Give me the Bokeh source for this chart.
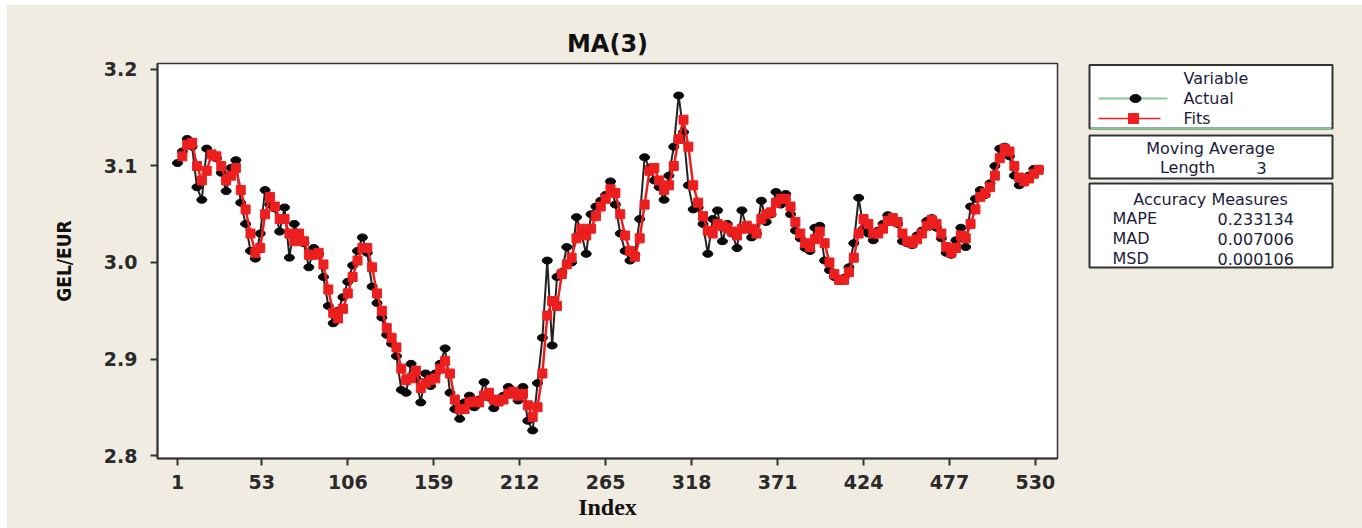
from bokeh.plotting import figure
from bokeh.models import Range1d, FixedTicker, ColumnDataSource
from bokeh.layouts import row
from bokeh.embed import file_html
from bokeh.resources import INLINE
from bokeh.core.properties import value

# ---------------- data ----------------
title_text = "MA(3)"
x_label = "Index"
y_label = "GEL/EUR"
x_ticks = [1, 53, 106, 159, 212, 265, 318, 371, 424, 477, 530]
y_ticks = [2.8, 2.9, 3.0, 3.1, 3.2]

actual_start, fits_start, step, last_index = 1, 4, 3, 532
actual = [
    3.103, 3.115, 3.128, 3.120, 3.078, 3.065, 3.118, 3.112, 3.108, 3.093,
    3.074, 3.098, 3.106, 3.062, 3.040, 3.012, 3.004, 3.030, 3.075, 3.060,
    3.056, 3.032, 3.057, 3.005, 3.040, 3.026, 3.020, 2.995, 3.015, 3.009,
    2.985, 2.955, 2.937, 2.950, 2.964, 2.980, 2.997, 3.012, 3.026, 3.010,
    2.975, 2.958, 2.943, 2.925, 2.916, 2.903, 2.868, 2.865, 2.895, 2.880,
    2.855, 2.885, 2.872, 2.885, 2.895, 2.911, 2.865, 2.848, 2.838, 2.855,
    2.862, 2.850, 2.858, 2.876, 2.860, 2.849, 2.855, 2.862, 2.871, 2.865,
    2.857, 2.871, 2.836, 2.826, 2.875, 2.922, 3.002, 2.914, 2.985, 2.990,
    3.016, 3.000, 3.047, 3.030, 3.009, 3.050, 3.058, 3.064, 3.070, 3.084,
    3.060, 3.030, 3.012, 3.002, 3.008, 3.045, 3.109, 3.098, 3.085, 3.078,
    3.065, 3.090, 3.120, 3.173, 3.135, 3.080, 3.055, 3.057, 3.040, 3.009,
    3.045, 3.054, 3.022, 3.040, 3.030, 3.015, 3.054, 3.035, 3.026, 3.030,
    3.064, 3.042, 3.050, 3.073, 3.060, 3.071, 3.050, 3.033, 3.025, 3.015,
    3.012, 3.036, 3.038, 3.002, 2.992, 2.985, 2.981, 2.984, 2.995, 3.020,
    3.067, 3.035, 3.030, 3.023, 3.033, 3.040, 3.049, 3.045, 3.040, 3.022,
    3.020, 3.018, 3.028, 3.033, 3.043, 3.046, 3.036, 3.025, 3.010, 3.008,
    3.023, 3.036, 3.016, 3.058, 3.066, 3.075, 3.070, 3.082, 3.100, 3.118,
    3.120, 3.110, 3.090, 3.080, 3.085, 3.090, 3.097, 3.097,
]
fits = [
    3.110, 3.122, 3.124, 3.100, 3.085, 3.095, 3.112, 3.110, 3.100, 3.085,
    3.090, 3.098, 3.075, 3.055, 3.030, 3.010, 3.015, 3.050, 3.068, 3.058,
    3.045, 3.045, 3.030, 3.022, 3.030, 3.022, 3.008, 3.008, 3.010, 2.998,
    2.972, 2.948, 2.942, 2.952, 2.968, 2.985, 3.002, 3.015, 3.015, 2.995,
    2.968, 2.950, 2.932, 2.922, 2.912, 2.890, 2.878, 2.880, 2.888, 2.870,
    2.875, 2.878, 2.880, 2.890, 2.898, 2.885, 2.858, 2.848, 2.848, 2.855,
    2.856, 2.855, 2.862, 2.865, 2.858, 2.856, 2.858, 2.864, 2.866, 2.862,
    2.864, 2.852, 2.840, 2.850, 2.885, 2.945, 2.960, 2.955, 2.988, 2.998,
    3.005, 3.025, 3.035, 3.028, 3.035, 3.048, 3.058, 3.066, 3.076, 3.072,
    3.050, 3.028, 3.012, 3.006, 3.025, 3.060, 3.095, 3.098, 3.085, 3.075,
    3.080, 3.100, 3.128, 3.148, 3.120, 3.080, 3.062, 3.048, 3.033, 3.030,
    3.040, 3.038, 3.036, 3.032, 3.028, 3.035, 3.038, 3.035, 3.030, 3.045,
    3.050, 3.052, 3.062, 3.066, 3.066, 3.058, 3.042, 3.030, 3.020, 3.016,
    3.024, 3.032, 3.020, 3.000, 2.988, 2.982, 2.982, 2.990, 3.005, 3.030,
    3.045, 3.040, 3.030, 3.030, 3.035, 3.043, 3.046, 3.042, 3.030, 3.022,
    3.020, 3.024, 3.030, 3.038, 3.044, 3.040, 3.030, 3.016, 3.010, 3.015,
    3.028, 3.025, 3.040, 3.055, 3.068, 3.072, 3.078, 3.090, 3.108, 3.118,
    3.115, 3.100, 3.088, 3.084, 3.087, 3.092, 3.096,
]
actual_idx = list(range(actual_start, last_index + 1, step))
fits_idx = list(range(fits_start, last_index + 1, step))

legend_title = "Variable"
series_names = ["Actual", "Fits"]
ma_title = "Moving Average"
ma_length_label = "Length"
ma_length = "3"
acc_title = "Accuracy Measures"
acc_names = ["MAPE", "MAD", "MSD"]
acc_values = ["0.233134", "0.007006", "0.000106"]

# ---------------- styles ----------------
BG = "#f0ece1"
AX = "#333333"
RED = "#ec1e1e"
BLACK = "#0a0a0a"
GREEN = "#86c89a"
SANS_NARROW = "'Liberation Sans Narrow', 'DejaVu Sans Condensed', 'Arial Narrow', 'DejaVu Sans', sans-serif"

# ---------------- main figure ----------------
p = figure(width=1076, height=523, output_backend="svg", toolbar_location=None,
           x_range=Range1d(-11.33, 543.6), y_range=Range1d(2.7969, 3.2062),
           min_border_left=150, min_border_right=26, min_border_top=58,
           min_border_bottom=70)
p.background_fill_color = "white"
p.border_fill_color = BG
p.outline_line_color = AX
p.outline_line_width = 1.5
p.xgrid.visible = False
p.ygrid.visible = False

p.title.text = title_text
p.title.align = "center"
p.title.offset = 76
p.title.text_font = "DejaVu Sans"
p.title.text_font_style = "bold"
p.title.text_font_size = "24px"
p.title.text_color = "#111111"
p.title.standoff = 11

p.xaxis.ticker = FixedTicker(ticks=x_ticks)
p.yaxis.ticker = FixedTicker(ticks=y_ticks)
p.yaxis.major_label_overrides = {t: f"{t:.1f}" for t in y_ticks}
for ax in (p.xaxis[0], p.yaxis[0]):
    ax.axis_line_color = AX
    ax.axis_line_width = 2
    ax.major_tick_line_color = AX
    ax.major_tick_line_width = 2
    ax.major_tick_out = 7
    ax.major_tick_in = 0
    ax.minor_tick_line_color = None
    ax.major_label_text_font = "DejaVu Sans"
    ax.major_label_text_font_style = "bold"
    ax.major_label_text_font_size = "19px"
    ax.major_label_text_color = "#2a2a2a"

p.xaxis.major_label_standoff = 9
p.yaxis.major_label_standoff = 13
p.xaxis.axis_label = x_label
p.xaxis.axis_label_text_font = "Liberation Serif"
p.xaxis.axis_label_text_font_style = "bold"
p.xaxis.axis_label_text_font_size = "24px"
p.xaxis.axis_label_text_color = "#111111"
p.xaxis.axis_label_standoff = 2
p.yaxis.axis_label = y_label
p.yaxis.axis_label_text_font = SANS_NARROW
p.yaxis.axis_label_text_font_style = "bold"
p.yaxis.axis_label_text_font_size = "19px"
p.yaxis.axis_label_text_color = "#111111"
p.yaxis.axis_label_standoff = 26

src_a = ColumnDataSource(dict(x=actual_idx, y=actual))
src_f = ColumnDataSource(dict(x=fits_idx, y=fits))
p.line("x", "y", source=src_a, line_color="#222222", line_width=2)
p.ellipse("x", "y", source=src_a, width=10, height=7, width_units="screen",
          height_units="screen", fill_color=BLACK, line_color=BLACK)
p.line("x", "y", source=src_f, line_color=RED, line_width=2.5)
p.scatter("x", "y", source=src_f, marker="square", size=9,
          fill_color=RED, line_color=RED)

# ---------------- legend panel (page-pixel coordinates) ----------------
lg = figure(width=279, height=523, output_backend="svg", toolbar_location=None,
            x_range=Range1d(1083, 1362), y_range=Range1d(458, 63),
            x_axis_location=None, y_axis_location=None,
            min_border_left=0, min_border_right=0, min_border_top=58,
            min_border_bottom=70)
lg.background_fill_color = BG
lg.border_fill_color = BG
lg.outline_line_color = None
lg.xgrid.visible = False
lg.ygrid.visible = False

boxes = dict(left=[1089, 1089, 1089], right=[1332, 1332, 1332],
             top=[64.5, 135, 183], bottom=[128, 178, 267])
lg.quad(source=ColumnDataSource(boxes), left="left", right="right", top="top",
        bottom="bottom", fill_color="white", line_color=AX, line_width=2)
lg.segment(x0=[1090], y0=[128], x1=[1331], y1=[128], line_color=GREEN,
           line_width=2)

# legend samples
lg.segment(x0=[1098], y0=[98], x1=[1167], y1=[98], line_color=GREEN,
           line_width=2)
lg.ellipse(x=[1135], y=[98], width=11, height=8, width_units="screen",
           height_units="screen", fill_color=BLACK, line_color=BLACK)
lg.segment(x0=[1098], y0=[118], x1=[1160], y1=[118], line_color=RED,
           line_width=1.5)
lg.scatter(x=[1133], y=[118], marker="square", size=10, fill_color=RED,
           line_color=RED)

FONT = value("DejaVu Sans")
TS = "16px"
TC = "#1c1c3a"
lg.text(x=[1183], y=[78], text=[legend_title], text_font=FONT,
        text_font_size=TS, text_color=TC, text_baseline="middle",
        text_align="left")
lg.text(x=[1183, 1183], y=[98, 118], text=series_names, text_font=FONT,
        text_font_size=TS, text_color=TC, text_baseline="middle",
        text_align="left")
lg.text(x=[1210], y=[148], text=[ma_title], text_font=FONT,
        text_font_size=TS, text_color=TC, text_baseline="middle",
        text_align="center")
lg.text(x=[1187], y=[167], text=[ma_length_label], text_font=FONT,
        text_font_size=TS, text_color=TC, text_baseline="middle",
        text_align="center")
lg.text(x=[1261], y=[167], text=[ma_length], text_font=FONT,
        text_font_size=TS, text_color=TC, text_baseline="middle",
        text_align="center")
lg.text(x=[1210], y=[199], text=[acc_title], text_font=FONT,
        text_font_size=TS, text_color=TC, text_baseline="middle",
        text_align="center")
lg.text(x=[1112, 1112, 1112], y=[218, 238, 258], text=acc_names,
        text_font=FONT, text_font_size=TS, text_color=TC,
        text_baseline="middle", text_align="left")
lg.text(x=[1217, 1217, 1217], y=[218, 238, 258], text=acc_values,
        text_font=FONT, text_font_size=TS, text_color=TC,
        text_baseline="middle", text_align="left")

layout = row(p, lg, spacing=0)
layout.styles = {"background-color": BG, "margin-left": "7px",
                 "margin-top": "5px"}
open("out.html", "w").write(file_html(layout, INLINE, title="MA(3)"))
